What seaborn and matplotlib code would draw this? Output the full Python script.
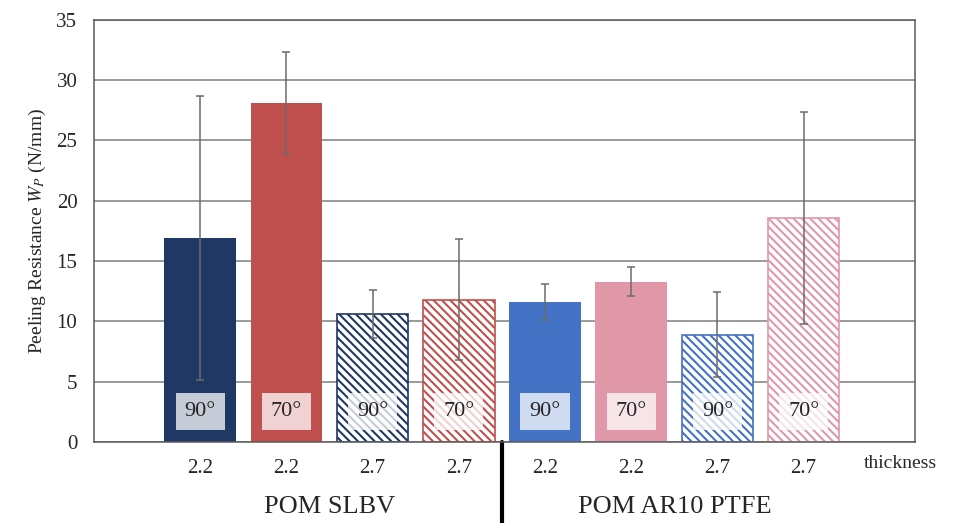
import pandas as pd
import seaborn as sns
import matplotlib.pyplot as plt

# data
groups = ["POM SLBV", "POM SLBV", "POM SLBV", "POM SLBV",
          "POM AR10 PTFE", "POM AR10 PTFE", "POM AR10 PTFE", "POM AR10 PTFE"]
thickness = ["2.2", "2.2", "2.7", "2.7", "2.2", "2.2", "2.7", "2.7"]
angles = ["90°", "70°", "90°", "70°", "90°", "70°", "90°", "70°"]
resistance = [16.9, 28.1, 10.6, 11.8, 11.6, 13.3, 8.9, 18.6]
errors = [11.8, 4.2, 2.0, 5.0, 1.5, 1.2, 3.5, 8.8]
colors = ["#1F3864", "#C0504D", "#1F3864", "#C0504D",
          "#4472C4", "#E098A8", "#4472C4", "#E098A8"]
hatched = [False, False, True, True, False, False, True, True]

df = pd.DataFrame({"bar": [f"b{i}" for i in range(len(resistance))],
                   "value": resistance})

sns.set_style("white")
plt.rcParams['font.family'] = ['Liberation Serif', 'DejaVu Serif']
plt.rcParams['mathtext.fontset'] = 'stix'
plt.rcParams['hatch.linewidth'] = 1.5

fig = plt.figure(figsize=(9.6, 5.23), dpi=100)
ax = fig.add_axes([0.098, 0.155, 0.855, 0.807])

sns.barplot(data=df, x="bar", y="value", hue="bar", palette=colors,
            legend=False, width=0.83, saturation=1, ax=ax, zorder=2)

for p, c, h in zip(ax.patches, colors, hatched):
    if h:
        p.set_facecolor("white")
        p.set_edgecolor(c)
        p.set_hatch("\\\\\\\\")
        p.set_linewidth(1.2)
    else:
        p.set_linewidth(0)

ax.errorbar(range(len(resistance)), resistance, yerr=errors, fmt="none",
            ecolor="#6b6b6b", elinewidth=1.1, capsize=3, capthick=1.1, zorder=4)

for i, a in enumerate(angles):
    ax.text(i, 2.5, a, ha="center", va="center", fontsize=16, zorder=5,
            bbox=dict(boxstyle="square,pad=0.4", fc="white", ec="none", alpha=0.75))

ax.set_ylim(0, 35)
ax.set_xlim(-1.23, 8.29)
ax.set_yticks(range(0, 36, 5))
ax.yaxis.grid(True, color="#7f7f7f", lw=1.1, zorder=0)
ax.set_axisbelow(True)
for s in ax.spines.values():
    s.set_color("#5a5a5a")
    s.set_linewidth(1.1)

ax.set_xticks(range(len(thickness)))
ax.set_xticklabels(thickness, fontsize=15)
ax.tick_params(axis="x", length=0, pad=12)
ax.tick_params(axis="y", length=0, labelsize=15, pad=12)
ax.set_xlabel("")
ax.set_ylabel("Peeling Resistance $W_P$ (N/mm)", fontsize=14, labelpad=6)

ax.text(8.12, -1.8, "thickness", ha="center", va="center", fontsize=14, clip_on=False)
ax.text(1.5, -5.4, groups[0], ha="center", va="center", fontsize=19, clip_on=False)
ax.text(5.5, -5.4, groups[4], ha="center", va="center", fontsize=19, clip_on=False)
ax.plot([3.5, 3.5], [0, -7.2], color="black", lw=3, clip_on=False)

fig.savefig("out.png", dpi=100)
